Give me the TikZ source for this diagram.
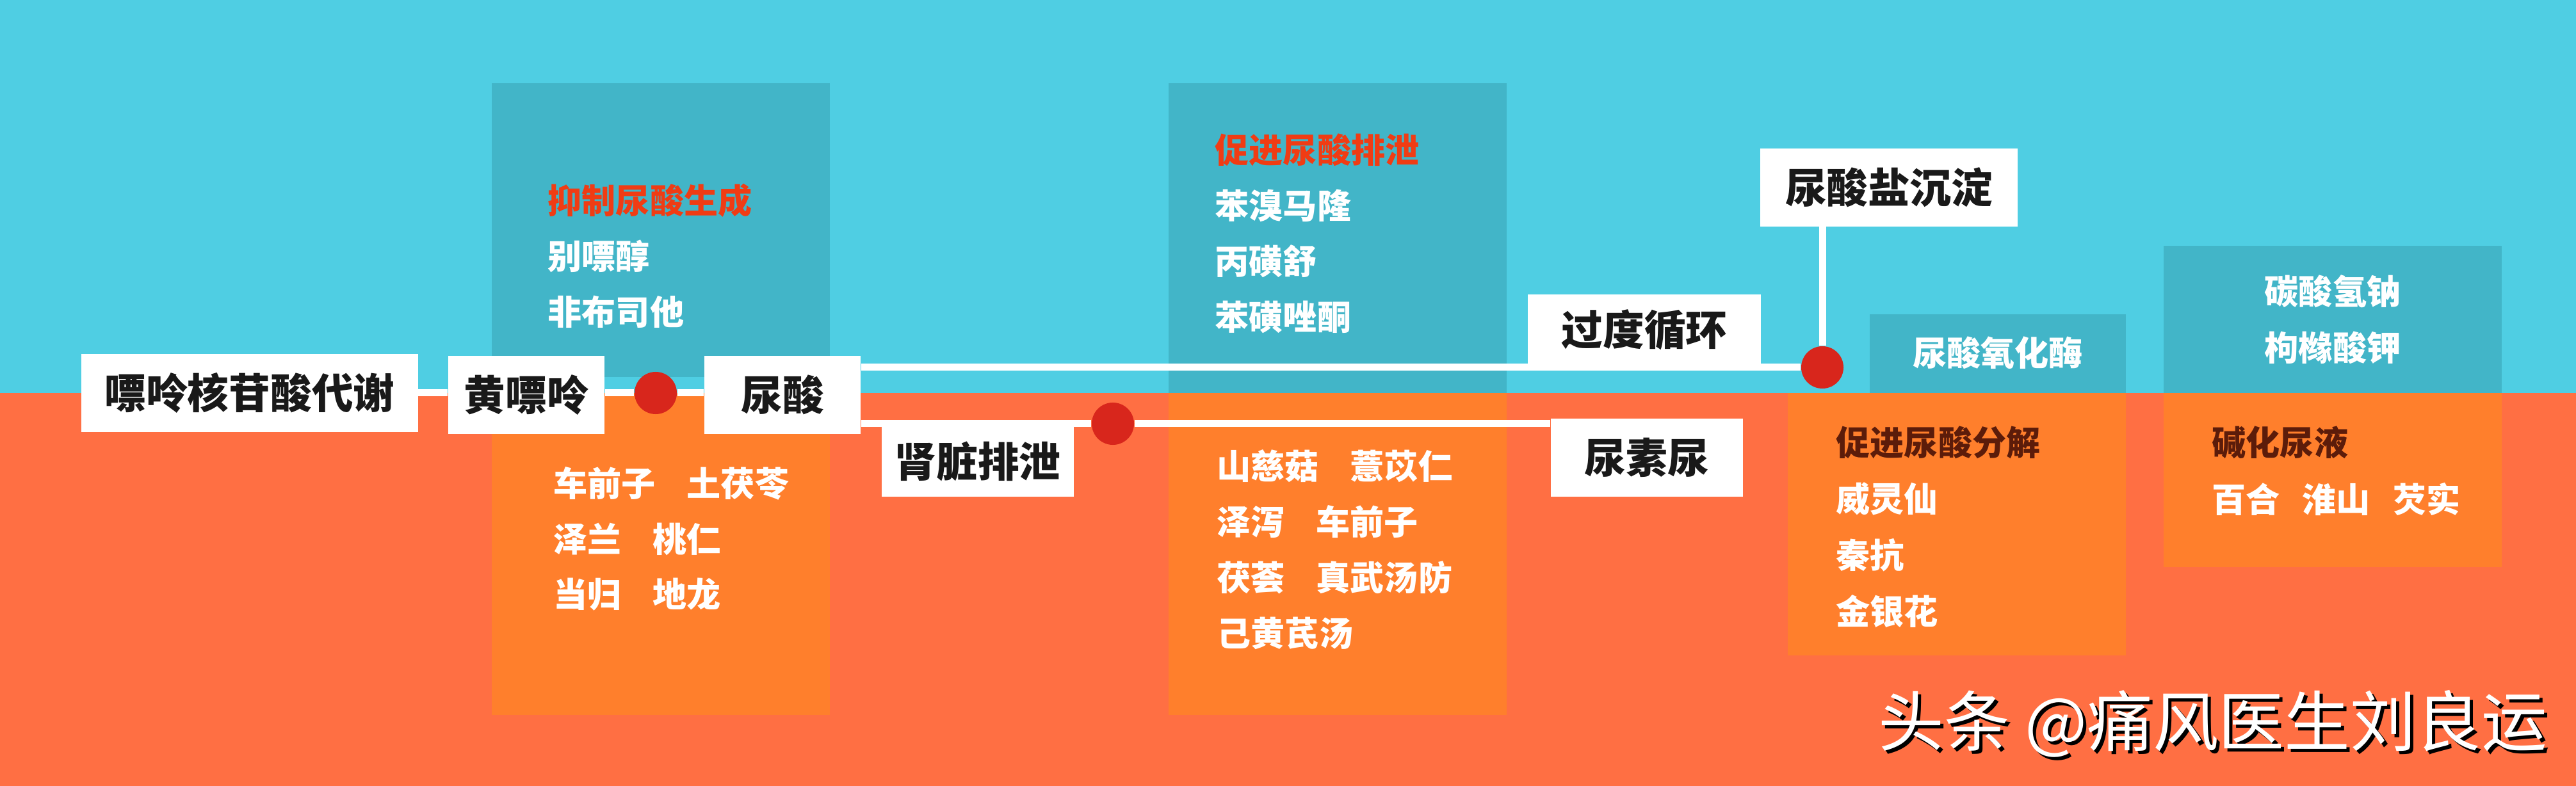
\documentclass[tikz,border=0pt]{standalone}
\usepackage{fontspec}
\setmainfont{Noto Sans CJK SC}
\definecolor{skyblue}{RGB}{79,206,227}
\definecolor{tealbox}{RGB}{66,181,200}
\definecolor{coralbg}{RGB}{255,111,67}
\definecolor{orangebox}{RGB}{255,127,44}
\definecolor{dotred}{RGB}{216,38,28}
\definecolor{headred}{RGB}{240,60,20}
\definecolor{headbrown}{RGB}{92,28,10}
\newcommand{\labelfont}{\fontsize{18.4pt}{22pt}\selectfont\bfseries}
\newcommand{\itemfont}{\fontsize{15.1pt}{18pt}\selectfont\bfseries}
\newcommand{\herbgap}{\hspace{0.92em}}

\begin{document}
\begin{tikzpicture}[x=0.01cm, y=-0.01cm,
    stage/.style={fill=white, text=black!90, font=\labelfont, inner sep=0pt, minimum height=1.21cm},
    item/.style={anchor=west, inner sep=0pt, text=white, font=\itemfont},
    dot/.style={circle, fill=dotred, inner sep=0pt, minimum size=0.66cm},
    link/.style={white, line width=0.11cm}]
		% background, top and bottom half
		\fill[skyblue] (0,0) rectangle (4023,614);
		\fill[coralbg] (0,614) rectangle (4023,1228);
%
		\fill[tealbox] (768,130) rectangle (1296,589);
		\fill[orangebox] (768,614) rectangle (1296,1117);
		\fill[tealbox] (1825,130) rectangle (2353,614);
		\fill[orangebox] (1825,614) rectangle (2353,1117);
		\fill[tealbox] (2920,491) rectangle (3320,614);
		\fill[orangebox] (2792,614) rectangle (3320,1024);
		\fill[tealbox] (3379,384) rectangle (3907,614);
		\fill[orangebox] (3379,614) rectangle (3907,886);
%
		\node[stage, minimum width=5.25cm] (purine) at (390,614) {嘌呤核苷酸代谢};
		\node[stage, minimum width=2.44cm] (xanthine) at (822,617) {黄嘌呤};
		\node[stage, minimum width=2.44cm] (uricacid) at (1222,617) {尿酸};
		\node[stage, minimum width=3.00cm, minimum height=1.09cm] (kidney) at (1527,721) {肾脏排泄};
		\node[stage, minimum width=3.63cm, minimum height=1.10cm] (recycle) at (2568,515) {过度循环};
		\node[stage, minimum width=3.00cm] (urea) at (2572,715) {尿素尿};
		\node[stage, minimum width=4.02cm] (deposit) at (2950,293) {尿酸盐沉淀};
%
		\node[dot] (d1) at (1024,614) {};
		\node[dot] (d2) at (1738,662) {};
		\node[dot] (d3) at (2846,574) {};
%
		\draw[link] (purine.east |- d1) -- (xanthine.west |- d1);
		\draw[link] (xanthine.east |- d1) -- (d1) -- (uricacid.west |- d1);
		\draw[link] (uricacid.east |- d3) -- (d3);
		\draw[link] (d3) -- (d3 |- deposit.south); % Vertical line
		\draw[link] (uricacid.east |- d2) -- (d2) -- (d2 -| urea.west);
%
		\node[item, text=headred] (inhibit) at (855,313) {抑制尿酸生成};
		\foreach \drug [count=\i] in {别嘌醇, 非布司他}
			\node[item] (inhibit\i) at (855,313+87*\i) {\drug};
		\foreach \herb [count=\i] in {车前子\herbgap 土茯苓, 泽兰\herbgap 桃仁, 当归\herbgap 地龙}
			\node[item] (herbA\i) at (864,668+87*\i) {\herb};
%
		\node[item, text=headred] (excrete) at (1897,234) {促进尿酸排泄};
		\foreach \drug [count=\i] in {苯溴马隆, 丙磺舒, 苯磺唑酮}
			\node[item] (excrete\i) at (1897,234+87*\i) {\drug};
		\foreach \herb [count=\i] in {山慈菇\herbgap 薏苡仁, 泽泻\herbgap 车前子, 茯荟\herbgap 真武汤防, 己黄芪汤}
			\node[item] (herbB\i) at (1900,641+87*\i) {\herb};
%
		\node[item, anchor=center] (oxidase) at (3120,551) {尿酸氧化酶};
		\node[item, text=headbrown] (breakdown) at (2867,691) {促进尿酸分解};
		\foreach \herb [count=\i] in {威灵仙, 秦抗, 金银花}
			\node[item] (herbC\i) at (2867,691+88*\i) {\herb};
%
		\node[item, anchor=center] (soda) at (3643,455) {碳酸氢钠};
		\node[item, anchor=center] (citrate) at (3643,543) {枸橼酸钾};
		\node[item, text=headbrown] (alkali) at (3454,691) {碱化尿液};
		\node[item] (herbD) at (3454,780) {百合\hspace{0.65em}淮山\hspace{0.65em}芡实};
%
		\node[text=black, font=\fontsize{29.2pt}{31pt}\selectfont] (wmshade) at (3461,1136) {头条 @痛风医生刘良运};
		\node[text=white, font=\fontsize{29.2pt}{31pt}\selectfont] (wm) at (3456,1131) {头条 @痛风医生刘良运};
\end{tikzpicture}
\end{document}
